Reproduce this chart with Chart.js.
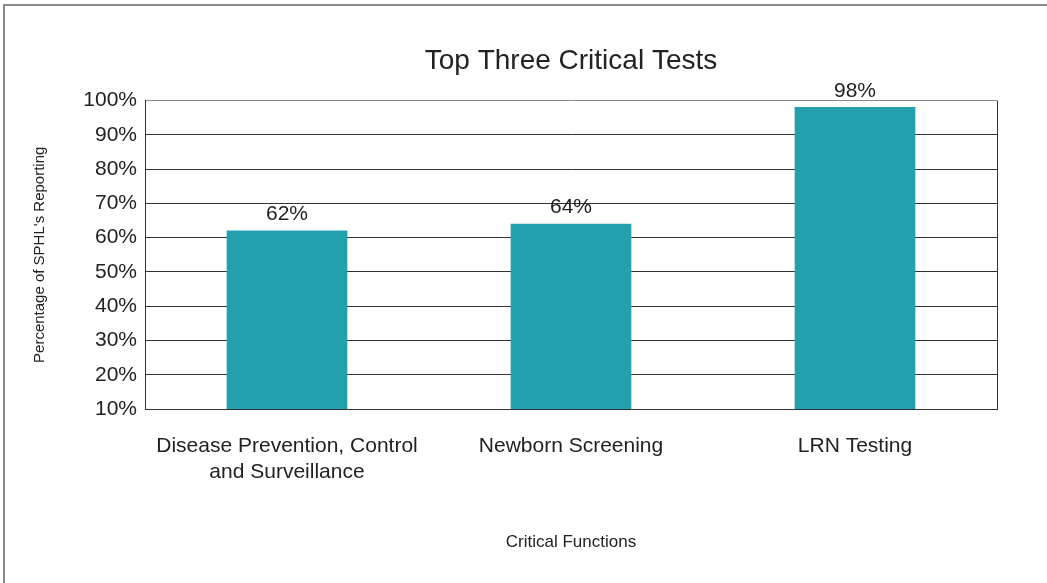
<!DOCTYPE html>
<html>
<head>
<meta charset="utf-8">
<script src="https://cdn.jsdelivr.net/npm/chart.js@4"></script>
<style>
  body { margin: 0; background: #fff; }
  #wrap { position: relative; width: 1047px; height: 583px; }
</style>
</head>
<body>
<div id="wrap"><canvas id="testsChart" width="1047" height="583"></canvas></div>
<script>
var categories = [
    ["Disease Prevention, Control", "and Surveillance"],
    "Newborn Screening",
    "LRN Testing"
];
var percentReporting = [62, 64, 98];
var yTickValues = [10, 20, 30, 40, 50, 60, 70, 80, 90, 100];

// value labels above bars + frame round the plot and the picture
var decorations = {
    id: "decorations",
    beforeDraw: function (chart) {
        var c = chart.ctx;
        c.save();
        c.strokeStyle = "#8a8a8a";
        c.lineWidth = 2;
        c.beginPath();
        c.moveTo(4, 583);
        c.lineTo(4, 5);
        c.lineTo(1047, 5);
        c.stroke();
        c.restore();
    },
    afterDatasetsDraw: function (chart) {
        var c = chart.ctx;
        var a = chart.chartArea;
        c.save();
        c.strokeStyle = "#333";
        c.lineWidth = 1;
        c.beginPath();
        c.moveTo(a.right + 0.5, a.top);
        c.lineTo(a.right + 0.5, a.bottom);
        c.stroke();
        c.font = "21px 'Liberation Sans', Arial, sans-serif";
        c.fillStyle = "#222";
        c.textAlign = "center";
        c.textBaseline = "bottom";
        chart.getDatasetMeta(0).data.forEach(function (bar, i) {
            c.fillText(percentReporting[i] + "%", bar.x, bar.y - 6);
        });
        c.restore();
    }
};

document.addEventListener("DOMContentLoaded", function () {
    var ctx = document.getElementById("testsChart").getContext("2d");
    new Chart(ctx, {
        type: "bar",
        data: {
            labels: categories,
            datasets: [
                {
                    label: "Percentage of SPHL's Reporting",
                    data: percentReporting,
                    backgroundColor: "#22a0ae",
                    borderWidth: 0,
                    barThickness: 120
                }
            ]
        },
        plugins: [decorations],
        options: {
            responsive: false,
            animation: false,
            layout: { padding: { left: 0, right: 50, top: 0, bottom: 0 } },
            scales: {
                x: {
                    grid: { display: false },
                    border: { display: true, color: "#333", width: 1 },
                    ticks: {
                        color: "#222",
                        padding: 17,
                        maxRotation: 0,
                        font: { family: "'Liberation Sans', Arial, sans-serif", size: 21 }
                    },
                    title: {
                        display: true,
                        text: "Critical Functions",
                        color: "#222",
                        padding: { top: 0, bottom: 30 },
                        font: { family: "'Liberation Sans', Arial, sans-serif", size: 17 }
                    },
                    afterFit: function (scale) { scale.height = 174; }
                },
                y: {
                    min: 10,
                    max: 100,
                    afterBuildTicks: function (scale) {
                        scale.ticks = yTickValues.map(function (v) { return { value: v }; });
                    },
                    grid: {
                        drawTicks: false,
                        color: function (c) { return c.tick && c.tick.value === 100 ? "#8a8a8a" : "#333"; },
                        lineWidth: 1
                    },
                    border: { display: true, color: "#333", width: 1 },
                    ticks: {
                        color: "#222",
                        padding: 8,
                        callback: function (v) { return v + "%"; },
                        font: { family: "'Liberation Sans', Arial, sans-serif", size: 21 }
                    },
                    title: {
                        display: true,
                        text: "Percentage of SPHL's Reporting",
                        color: "#222",
                        padding: { top: 31, bottom: 0 },
                        font: { family: "'Liberation Sans', Arial, sans-serif", size: 15 }
                    },
                    afterFit: function (scale) { scale.width = 145; }
                }
            },
            plugins: {
                legend: { display: false },
                tooltip: { enabled: false },
                title: {
                    display: true,
                    fullSize: false,
                    text: "Top Three Critical Tests",
                    color: "#222",
                    padding: { top: 44, bottom: 23 },
                    font: { family: "'Liberation Sans', Arial, sans-serif", size: 28, weight: "normal" }
                }
            }
        }
    });
});
</script>
</body>
</html>
